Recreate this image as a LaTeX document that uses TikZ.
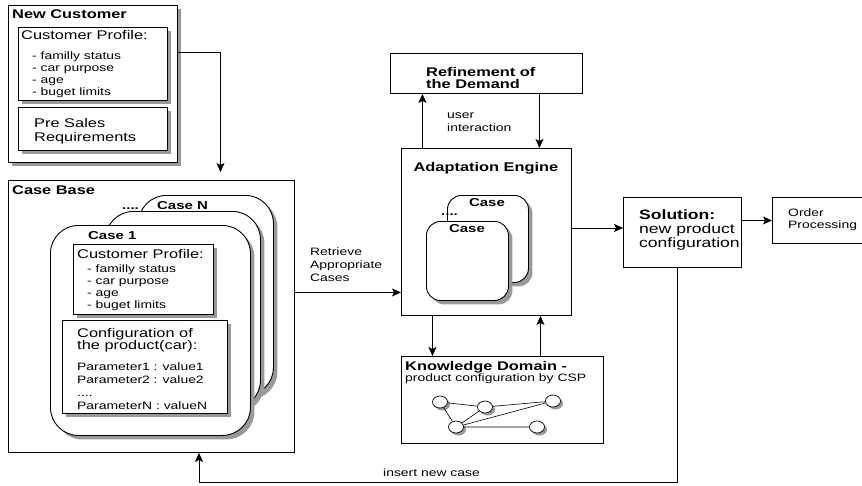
\documentclass[tikz,border=0pt]{standalone}
\usepackage{fontspec}
\setmainfont{Liberation Sans}[FakeStretch=1.3]
\usetikzlibrary{arrows.meta, calc, shadows, shapes.geometric}

\begin{document}
\begin{tikzpicture}[x=1pt, y=-1pt,
  box/.style={draw, line width=0.9pt, fill=white, anchor=north west,
              inner sep=0pt},
  sbox/.style={box, drop shadow={shadow xshift=4pt, shadow yshift=-4pt,
              fill=black!40, opacity=1}},
  card/.style={sbox, rounded corners=28pt},
  minicard/.style={sbox, rounded corners=14pt},
  ttl/.style={font=\fontsize{12.6}{12.5}\selectfont\bfseries,
              anchor=north west, inner sep=0pt, align=left},
  cttl/.style={font=\fontsize{11.5}{12}\selectfont\bfseries,
              anchor=north west, inner sep=0pt},
  txtbig/.style={font=\fontsize{12.6}{14}\selectfont,
              anchor=north west, inner sep=0pt, align=left},
  txtsm/.style={font=\fontsize{10.7}{12}\selectfont,
              anchor=north west, inner sep=0pt, align=left},
  vertex/.style={ellipse, draw, line width=0.7pt, fill=white,
              minimum width=15pt, minimum height=12pt, inner sep=0pt,
              drop shadow={shadow xshift=2.5pt, shadow yshift=-2.5pt,
              fill=black!40, opacity=1}},
  arr/.style={-{Stealth[length=9pt, width=8pt, inset=2pt]}, line width=0.8pt}
]
\useasboundingbox (0,0) rectangle (862,485);

%% New customer
\node[sbox, minimum width=169pt, minimum height=157pt] (newcust) at (8,5) {};
\node[ttl] (newcustT) at (12,10) {New Customer};
\node[sbox, minimum width=149pt, minimum height=73pt] (prof) at (18,27) {};
\node[txtbig] (profT) at (21,30) {Customer Profile:};
\node[txtsm, font=\fontsize{10.7}{11.8}\selectfont] (profL) at (32,52)
  {- familly status\\- car purpose\\- age\\- buget limits};
\node[sbox, minimum width=149pt, minimum height=43pt] (presales) at (18,107) {};
\node[txtbig] (presalesT) at (34,118) {Pre Sales\\Requirements};

%% Case base with stacked cases
\node[box, minimum width=286pt, minimum height=272pt] (casebase) at (8,180) {};
\node[ttl] (casebaseT) at (12,185) {Case Base};
\node[card, minimum width=135pt, minimum height=200pt] (caseN) at (138,195) {};
\node[card, minimum width=155pt, minimum height=197pt] (caseM) at (105,211) {};
\node[card, minimum width=200pt, minimum height=210pt] (case1) at (50,225) {};
\node[cttl, anchor=base west] (dotsN) at (122,209) {....};
\node[cttl] (caseNT) at (157,201) {Case N};
\node[cttl] (case1T) at (88,231) {Case 1};
\node[sbox, minimum width=140pt, minimum height=70pt] (cprof) at (73,244) {};
\node[txtbig] (cprofT) at (77,249) {Customer Profile:};
\node[txtsm, font=\fontsize{10.7}{11.8}\selectfont] (cprofL) at (87,265)
  {- familly status\\- car purpose\\- age\\- buget limits};
\node[sbox, minimum width=165pt, minimum height=93pt] (config) at (62,320) {};
\node[txtbig, font=\fontsize{12.6}{12.5}\selectfont] (configT) at (77,328)
  {Configuration of\\the product(car):};
\node[txtsm, font=\fontsize{10.7}{12.7}\selectfont] (configL) at (77,363)
  {Parameter1 : value1\\Parameter2 : value2\\....\\ParameterN : valueN};

%% Refinement and adaptation
\node[box, minimum width=192pt, minimum height=40pt] (refine) at (390,53) {};
\node[ttl] (refineT) at (426,67) {Refinement of\\the Demand};
\node[txtsm, font=\fontsize{10.7}{13}\selectfont] (userT) at (447,113)
  {user\\interaction};
\node[box, minimum width=170pt, minimum height=167pt] (adapt) at (401,148) {};
\node[ttl, anchor=north] (adaptT) at (486,162) {Adaptation Engine};
\node[minicard, minimum width=81pt, minimum height=87pt] (acaseB) at (447,195) {};
\node[minicard, minimum width=82pt, minimum height=79pt] (acaseA) at (426,221) {};
\node[cttl, anchor=north] (acaseBT) at (487,198) {Case};
\node[cttl, anchor=north] (acaseAT) at (467,224) {Case};
\node[cttl, anchor=base west] (dotsA) at (441,215) {....};

%% Knowledge domain
\node[box, minimum width=202pt, minimum height=87pt] (know) at (401,356) {};
\node[ttl] (knowT) at (405,361) {Knowledge Domain -};
\node[txtsm] (knowS) at (405,374) {product configuration by CSP};
\node[vertex] (v1) at (440,402) {};
\node[vertex] (v2) at (485,407) {};
\node[vertex] (v3) at (553,401) {};
\node[vertex] (v4) at (456,427) {};
\node[vertex] (v5) at (537,427) {};
\draw[line width=0.6pt] (v1) -- (v2) (v1) -- (v4) (v2) -- (v4)
  (v2) -- (v3) (v4) -- (v3) (v4) -- (v5);

%% Solution and order
\node[box, minimum width=118pt, minimum height=70pt] (sol) at (623,197) {};
\node[txtbig, font=\fontsize{13.5}{14}\selectfont] (solT) at (639,210)
  {\textbf{Solution:}\\new product\\configuration};
\node[box, minimum width=92pt, minimum height=46pt] (order) at (772,197) {};
\node[txtsm] (orderT) at (788,209) {Order\\Processing};

%% Connectors
\draw[arr, shorten >=8pt] ($(newcust.east)+(0,-31.5)$) -| ($(casebase.north)+(69,0)$);
\coordinate (retr) at ($(casebase.east)+(0,-24)$);
\draw[arr] (retr) -- (retr -| adapt.west);
\node[txtsm, font=\fontsize{10.7}{13}\selectfont] (retrT) at (310,248)
  {Retrieve\\Appropriate\\Cases};
\draw[arr] ([xshift=-64pt]adapt.north) -- ([xshift=-64pt]refine.south);
\draw[arr] ([xshift=53pt]refine.south) -- ([xshift=53pt]adapt.north);
\draw[arr] ([xshift=-54pt]adapt.south) -- ([xshift=-70pt]know.north);
\draw[arr] ([xshift=38pt]know.north) -- ([xshift=54pt]adapt.south);
\coordinate (toSol) at ([yshift=4pt]adapt.east);
\draw[arr] (toSol) -- (toSol -| sol.west);
\draw[arr] (sol.east |- order.west) -- (order.west);
\coordinate (back) at (199,482);
\draw[arr] ([xshift=-5pt]sol.south) |- (back) -- (back |- casebase.south);
\node[txtsm] (insertT) at (383,469) {insert new case};
\end{tikzpicture}
\end{document}
